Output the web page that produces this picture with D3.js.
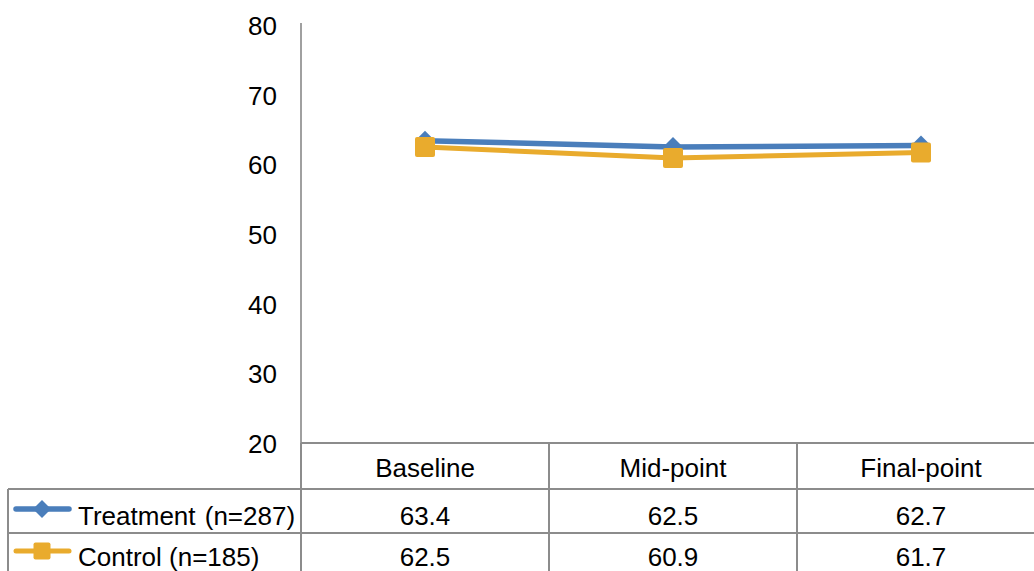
<!DOCTYPE html>
<html>
<head>
<meta charset="utf-8">
<script src="https://cdn.jsdelivr.net/npm/d3@7"></script>
<style>
  html, body { margin: 0; padding: 0; background: #fff; }
  svg { display: block; font-family: "Liberation Sans", Arial, sans-serif; }
  text { white-space: pre; }
</style>
</head>
<body>
<svg id="chart" width="1034" height="571"></svg>
<script>
// Time points and group means
const categories = ["Baseline", "Mid-point", "Final-point"];
const treatmentValues = [63.4, 62.5, 62.7];
const controlValues = [62.5, 60.9, 61.7];
const seriesLabels = ["Treatment", "Control"];
const seriesCounts = ["(n=287)", "(n=185)"];
const yTicks = [20, 30, 40, 50, 60, 70, 80];

const series = [
  { label: seriesLabels[0], count: seriesCounts[0], gap: 2, values: treatmentValues, color: "#4A7EBB", width: 5.5, marker: "diamond" },
  { label: seriesLabels[1], count: seriesCounts[1], gap: 0, values: controlValues, color: "#E9AB2D", width: 5, marker: "square" }
];

const svg = d3.select("#chart");
const plotLeft = 301, plotRight = 1045, plotTop = 25, plotBottom = 443;
const rowLines = [489, 533];
const gridColor = "#8C8C8C";
const fontSize = 26;

const x = d3.scaleBand().domain(categories).range([plotLeft, plotRight]);
const y = d3.scaleLinear().domain([20, 80]).range([plotBottom, plotTop]);
const cx = c => x(c) + x.bandwidth() / 2;

// Y axis: plain line with value labels, no tick marks
const yAxis = d3.axisLeft(y).tickValues(yTicks).tickSize(0).tickPadding(24);
const gy = svg.append("g").attr("transform", `translate(${plotLeft},0)`).call(yAxis);
gy.select(".domain").attr("stroke", "#A0A0A0").attr("stroke-width", 2).attr("d", `M0,${plotTop - 2}V${plotBottom}`);
gy.selectAll("text").attr("font-size", fontSize).attr("fill", "#000")
  .attr("font-family", "Liberation Sans, Arial, sans-serif").attr("dy", "0.36em");

// Data table grid
const tableG = svg.append("g").attr("stroke", gridColor).attr("stroke-width", 2).attr("fill", "none");
tableG.append("line").attr("x1", plotLeft).attr("x2", plotRight).attr("y1", plotBottom).attr("y2", plotBottom);
rowLines.forEach(yy => {
  tableG.append("line").attr("x1", 8).attr("x2", plotRight).attr("y1", yy).attr("y2", yy);
});
categories.forEach((c, i) => {
  if (i > 0) tableG.append("line").attr("x1", x(c)).attr("x2", x(c)).attr("y1", plotBottom).attr("y2", 571);
});
tableG.append("line").attr("x1", 8).attr("x2", 8).attr("y1", rowLines[0]).attr("y2", 571);
tableG.append("line").attr("x1", plotLeft).attr("x2", plotLeft).attr("y1", plotBottom).attr("y2", 571);

// Header labels
svg.append("g").selectAll("text").data(categories).join("text")
  .attr("x", d => cx(d))
  .attr("y", 468)
  .attr("dy", "0.36em")
  .attr("text-anchor", "middle")
  .attr("font-size", fontSize)
  .text(d => d);

const rowTextY = [516, 557];
const rowKeyY = [509, 551];

series.forEach((s, si) => {
  // Value cells
  svg.append("g").selectAll("text").data(s.values).join("text")
    .attr("x", (d, i) => cx(categories[i]))
    .attr("y", rowTextY[si])
    .attr("dy", "0.36em")
    .attr("text-anchor", "middle")
    .attr("font-size", fontSize)
    .text(d => d.toFixed(1));

  // Legend key and series name in the row label cell
  const key = svg.append("g").attr("transform", `translate(42,${rowKeyY[si]})`);
  key.append("line").attr("x1", -26).attr("x2", 27).attr("stroke", s.color)
    .attr("stroke-width", s.width).attr("stroke-linecap", "round");
  drawMarker(key, s, s.marker === "diamond" ? 0.9 : 0.85);
  const t = svg.append("text").attr("x", 78).attr("y", rowTextY[si]).attr("dy", "0.36em").attr("font-size", fontSize);
  t.append("tspan").text(s.label + " ");
  t.append("tspan").attr("dx", s.gap).text(s.count);
});

function drawMarker(g, s, k) {
  if (s.marker === "diamond") {
    const r = 10 * k;
    g.append("path").attr("d", `M0,${-r}L${r},0L0,${r}L${-r},0Z`).attr("fill", s.color);
  } else {
    const h = 10 * k;
    g.append("rect").attr("x", -h).attr("y", -h).attr("width", 2 * h).attr("height", 2 * h)
      .attr("rx", 2).attr("fill", s.color);
  }
}

// Series lines, then markers on top
const line = d3.line().x((d, i) => cx(categories[i])).y(d => y(d));
series.forEach(s => {
  svg.append("path").datum(s.values).attr("d", line).attr("fill", "none")
    .attr("stroke", s.color).attr("stroke-width", s.width).attr("stroke-linejoin", "round");
});
series.forEach(s => {
  s.values.forEach((v, i) => {
    const g = svg.append("g").attr("transform", `translate(${cx(categories[i])},${y(v)})`);
    drawMarker(g, s, 1);
  });
});
</script>
</body>
</html>
